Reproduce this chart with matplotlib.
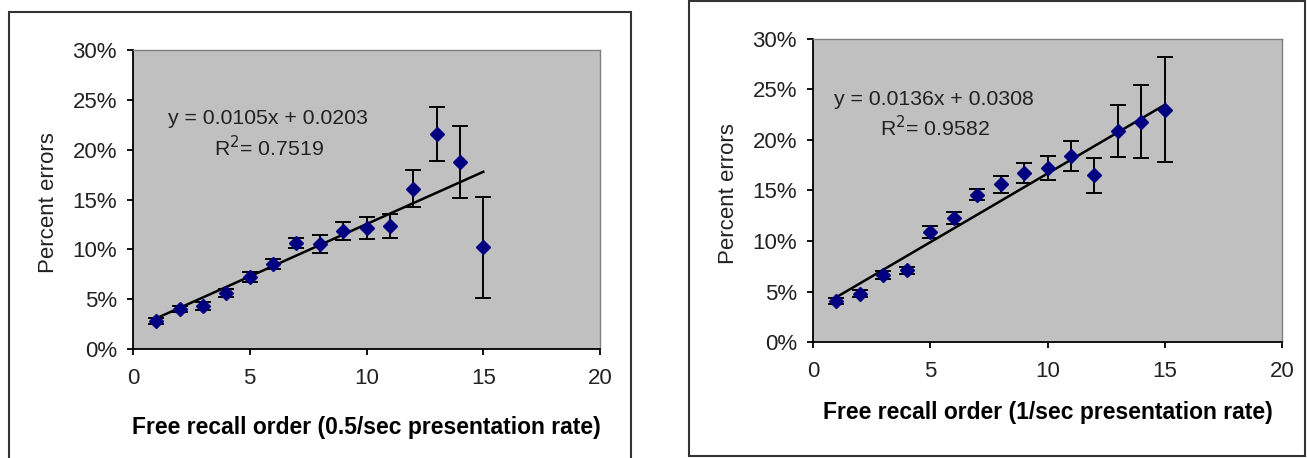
import matplotlib
matplotlib.use("Agg")
import matplotlib.pyplot as plt
from matplotlib.patches import Rectangle
from matplotlib.ticker import PercentFormatter

plt.rcParams['font.family'] = ['Liberation Sans', 'DejaVu Sans']

# recall position (same for both panels)
order = [1, 2, 3, 4, 5, 6, 7, 8, 9, 10, 11, 12, 13, 14, 15]

# 0.5/sec presentation rate
err_slow = [0.0285, 0.040, 0.0436, 0.056, 0.0727, 0.0855, 0.1066, 0.105, 0.1183,
            0.1217, 0.123, 0.161, 0.2156, 0.1877, 0.102]
sem_slow = [0.003, 0.003, 0.004, 0.004, 0.005, 0.005, 0.005, 0.009, 0.009,
            0.011, 0.012, 0.0185, 0.027, 0.036, 0.051]
fit_slow = (0.0105, 0.0203)
r2_slow = 0.7519

# 1/sec presentation rate
err_fast = [0.0404, 0.0476, 0.066, 0.071, 0.109, 0.123, 0.146, 0.156, 0.167,
            0.172, 0.184, 0.165, 0.209, 0.218, 0.230]
sem_fast = [0.003, 0.0035, 0.004, 0.0035, 0.006, 0.006, 0.005, 0.008, 0.010,
            0.012, 0.015, 0.017, 0.026, 0.036, 0.052]
fit_fast = (0.0136, 0.0308)
r2_fast = 0.9582

W, H = 1307, 458
fig = plt.figure(figsize=(W / 100, H / 100), dpi=100)


def px_box(x0, y0, x1, y1):
    # pixel box (top-left origin) -> figure fraction [l, b, w, h]
    return [x0 / W, 1 - y1 / H, (x1 - x0) / W, (y1 - y0) / H]


def frame(x0, y0, x1, y1):
    l, b, w, h = px_box(x0, y0, x1, y1)
    fig.patches.append(Rectangle((l, b), w, h, transform=fig.transFigure,
                                 fill=False, edgecolor='#333333', lw=1.5))


def panel(box, y, sem, fit, r2, xlabel, xlab_y, ylab_x, eq_xy, r2_xy):
    ax = fig.add_axes(px_box(*box))
    ax.set_facecolor('#c0c0c0')
    ax.errorbar(order, y, yerr=sem, fmt='none', ecolor='black', elinewidth=1.4,
                capsize=5.5, capthick=1.4, zorder=2)
    slope, icpt = fit
    xs = [order[0], order[-1]]
    ax.plot(xs, [slope * v + icpt for v in xs], color='black', lw=1.8, zorder=3)
    ax.plot(order, y, linestyle='none', marker='D', ms=7, color='#000080', zorder=4)
    ax.set_xlim(0, 20)
    ax.set_ylim(0, 0.30)
    ax.set_xticks([0, 5, 10, 15, 20])
    ax.set_yticks([0, 0.05, 0.10, 0.15, 0.20, 0.25, 0.30])
    ax.yaxis.set_major_formatter(PercentFormatter(xmax=1, decimals=0))
    for side in ['top', 'right']:
        ax.spines[side].set_color('#808080')
        ax.spines[side].set_linewidth(1)
    for side in ['left', 'bottom']:
        ax.spines[side].set_color('black')
        ax.spines[side].set_linewidth(1.3)
    ax.tick_params(direction='out', length=4.5, width=1.3, labelsize=16,
                   colors='black', labelcolor='#222222')
    ax.tick_params(axis='y', pad=7)
    ax.tick_params(axis='x', pad=9)
    ax.set_xlabel(xlabel, fontsize=16.5, fontweight='bold', va='center')
    ax.xaxis.set_label_coords(0.5, xlab_y)
    ax.set_ylabel('Percent errors', fontsize=16, color='#222222', va='center')
    ax.yaxis.set_label_coords(ylab_x, 0.49)
    ax.text(*eq_xy, f'y = {slope:.4f}x + {icpt:.4f}', transform=ax.transAxes,
            fontsize=15.3, ha='center', va='center', color='#222222')
    ax.text(*r2_xy, f'R$^2$= {r2:.4f}', transform=ax.transAxes,
            fontsize=15.3, ha='center', va='center', color='#222222')
    return ax


frame(9, 12, 631, 470)
frame(689, 1, 1305, 456)

panel((133, 50, 600, 349), err_slow, sem_slow, fit_slow, r2_slow,
      'Free recall order (0.5/sec presentation rate)', -0.261, -0.18,
      ((268 - 133) / 467, 1 - (118 - 50) / 299), ((269 - 133) / 467, 1 - (148 - 50) / 299))
panel((813, 39, 1282, 342), err_fast, sem_fast, fit_fast, r2_fast,
      'Free recall order (1/sec presentation rate)', -0.234, -0.181,
      ((934 - 813) / 469, 1 - (100 - 39) / 303), ((935 - 813) / 469, 1 - (128 - 39) / 303))

fig.savefig('out.png', dpi=100)
